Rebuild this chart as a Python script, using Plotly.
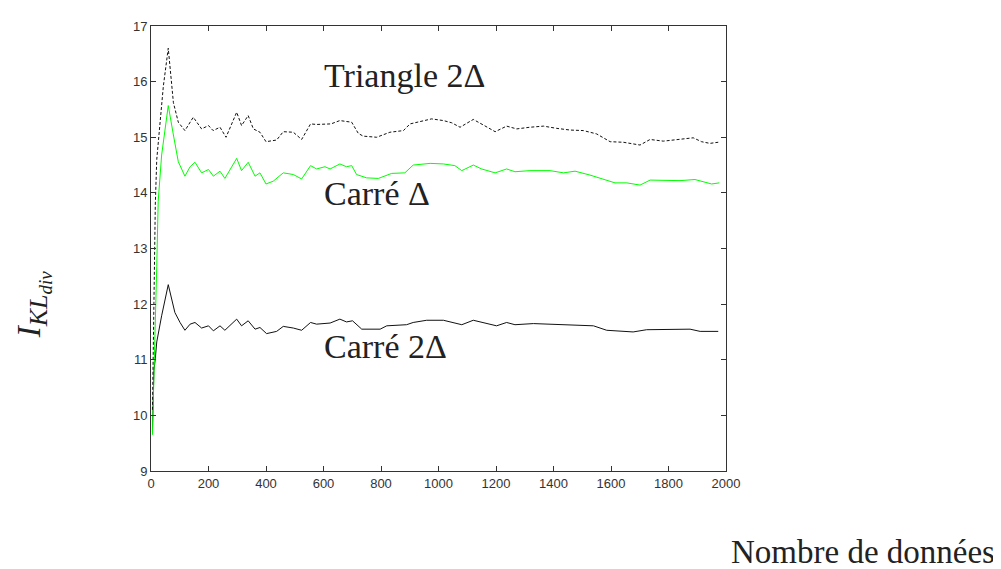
import plotly.graph_objects as go

# Triangle 2Δ (black dotted)
tri_x = [5,10,15,20,30,43,60,78,95,118,147,176,200,216,240,261,298,315,338,356,379,400,437,460,495,524,555,576,626,657,698,721,738,785,831,878,901,936,976,1017,1046,1075,1121,1156,1197,1237,1272,1318,1365,1411,1457,1504,1550,1597,1643,1701,1736,1782,1840,1886,1915,1944,1973]
tri_y = [10.1,12.3,13.8,14.6,15.2,15.92,16.6,15.62,15.27,15.12,15.36,15.15,15.21,15.12,15.18,15.0,15.45,15.21,15.39,15.15,15.09,14.92,14.95,15.1,15.09,14.96,15.24,15.23,15.24,15.30,15.27,15.07,15.02,15.0,15.09,15.12,15.24,15.28,15.33,15.30,15.26,15.18,15.32,15.22,15.10,15.20,15.15,15.18,15.20,15.16,15.13,15.12,15.06,14.92,14.91,14.86,14.96,14.93,14.96,14.99,14.92,14.89,14.91]

# Carré Δ (green)
sq1_x = [5,10,14,20,25,37,60,78,95,118,136,153,176,200,217,240,257,298,315,338,362,379,400,425,460,495,524,555,576,605,623,657,680,698,715,750,791,837,883,912,971,1017,1057,1081,1121,1150,1197,1237,1266,1318,1388,1435,1475,1527,1573,1614,1655,1701,1736,1782,1840,1892,1921,1950,1977]
sq1_y = [9.65,10.9,11.5,12.68,13.85,14.68,15.57,15.04,14.56,14.30,14.47,14.55,14.36,14.42,14.30,14.39,14.26,14.62,14.40,14.55,14.30,14.36,14.16,14.21,14.36,14.33,14.25,14.49,14.43,14.47,14.43,14.52,14.47,14.49,14.33,14.27,14.26,14.35,14.36,14.50,14.53,14.52,14.49,14.40,14.50,14.43,14.36,14.43,14.38,14.40,14.40,14.36,14.39,14.32,14.24,14.18,14.18,14.14,14.23,14.22,14.22,14.24,14.20,14.16,14.18]

# Carré 2Δ (black solid)
sq2_x = [5,8,10,15,20,37,60,83,101,118,136,153,176,200,217,240,257,298,315,338,362,379,402,437,460,495,524,555,576,623,657,680,701,733,797,820,889,912,959,1017,1052,1081,1121,1156,1202,1237,1266,1330,1388,1481,1539,1585,1631,1677,1724,1782,1840,1875,1910,1973]
sq2_y = [9.7,10.38,10.8,11.02,11.32,11.79,12.35,11.85,11.67,11.53,11.64,11.67,11.57,11.61,11.52,11.61,11.53,11.73,11.61,11.70,11.55,11.58,11.47,11.51,11.60,11.57,11.53,11.67,11.64,11.66,11.73,11.68,11.70,11.55,11.55,11.61,11.63,11.67,11.71,11.71,11.67,11.63,11.71,11.67,11.61,11.67,11.63,11.65,11.64,11.63,11.61,11.53,11.51,11.50,11.54,11.54,11.54,11.55,11.51,11.51]

x_ticks = [0,200,400,600,800,1000,1200,1400,1600,1800,2000]
y_ticks = [9,10,11,12,13,14,15,16,17]

labels = ["Triangle 2Δ", "Carré Δ", "Carré 2Δ"]
label_x = [595, 595, 595]
label_y = [16.11, 13.98, 11.24]

SERIF = "Liberation Serif, DejaVu Serif, serif"

fig = go.Figure()
fig.add_trace(go.Scatter(x=sq2_x, y=sq2_y, mode="lines",
                         line=dict(color="#111111", width=1)))
fig.add_trace(go.Scatter(x=sq1_x, y=sq1_y, mode="lines",
                         line=dict(color="#00ff00", width=1)))
fig.add_trace(go.Scatter(x=tri_x, y=tri_y, mode="lines",
                         line=dict(color="#111111", width=1, dash="3px,2px")))

for t, lx, ly in zip(labels, label_x, label_y):
    fig.add_annotation(x=lx, y=ly, text=t, showarrow=False, xanchor="left",
                       yanchor="middle",
                       font=dict(family=SERIF, size=34, color="#222222"))

fig.add_annotation(xref="paper", yref="paper", x=-0.205, y=0.375,
                   text="<i>I<sub><span style='font-size:26px'>KL</span><sub><span style='font-size:19px'>div</span></sub></sub></i>",
                   showarrow=False, textangle=-90, xanchor="center", yanchor="middle",
                   font=dict(family=SERIF, size=33, color="#222222"))

fig.add_annotation(xref="paper", yref="paper", x=1.472, y=-0.181, text="Nombre de données",
                   showarrow=False, xanchor="right", yanchor="middle",
                   font=dict(family=SERIF, size=33, color="#222222"))

axis_common = dict(showline=True, linecolor="#333333", linewidth=1, mirror="allticks",
                   ticks="inside", ticklen=5, tickcolor="#333333", showgrid=False,
                   zeroline=False, tickfont=dict(family="Liberation Sans, Arial, sans-serif", size=13, color="#333333"))

fig.update_xaxes(range=[0, 2000], tickvals=x_ticks, ticktext=[str(v) for v in x_ticks], **axis_common)
fig.update_yaxes(range=[9, 17], tickvals=y_ticks, ticktext=[str(v) for v in y_ticks], **axis_common)

fig.update_layout(width=1001, height=561, showlegend=False,
                  margin=dict(l=143, r=283, t=11, b=98),
                  paper_bgcolor="white", plot_bgcolor="white")

fig.write_html("out.html")
